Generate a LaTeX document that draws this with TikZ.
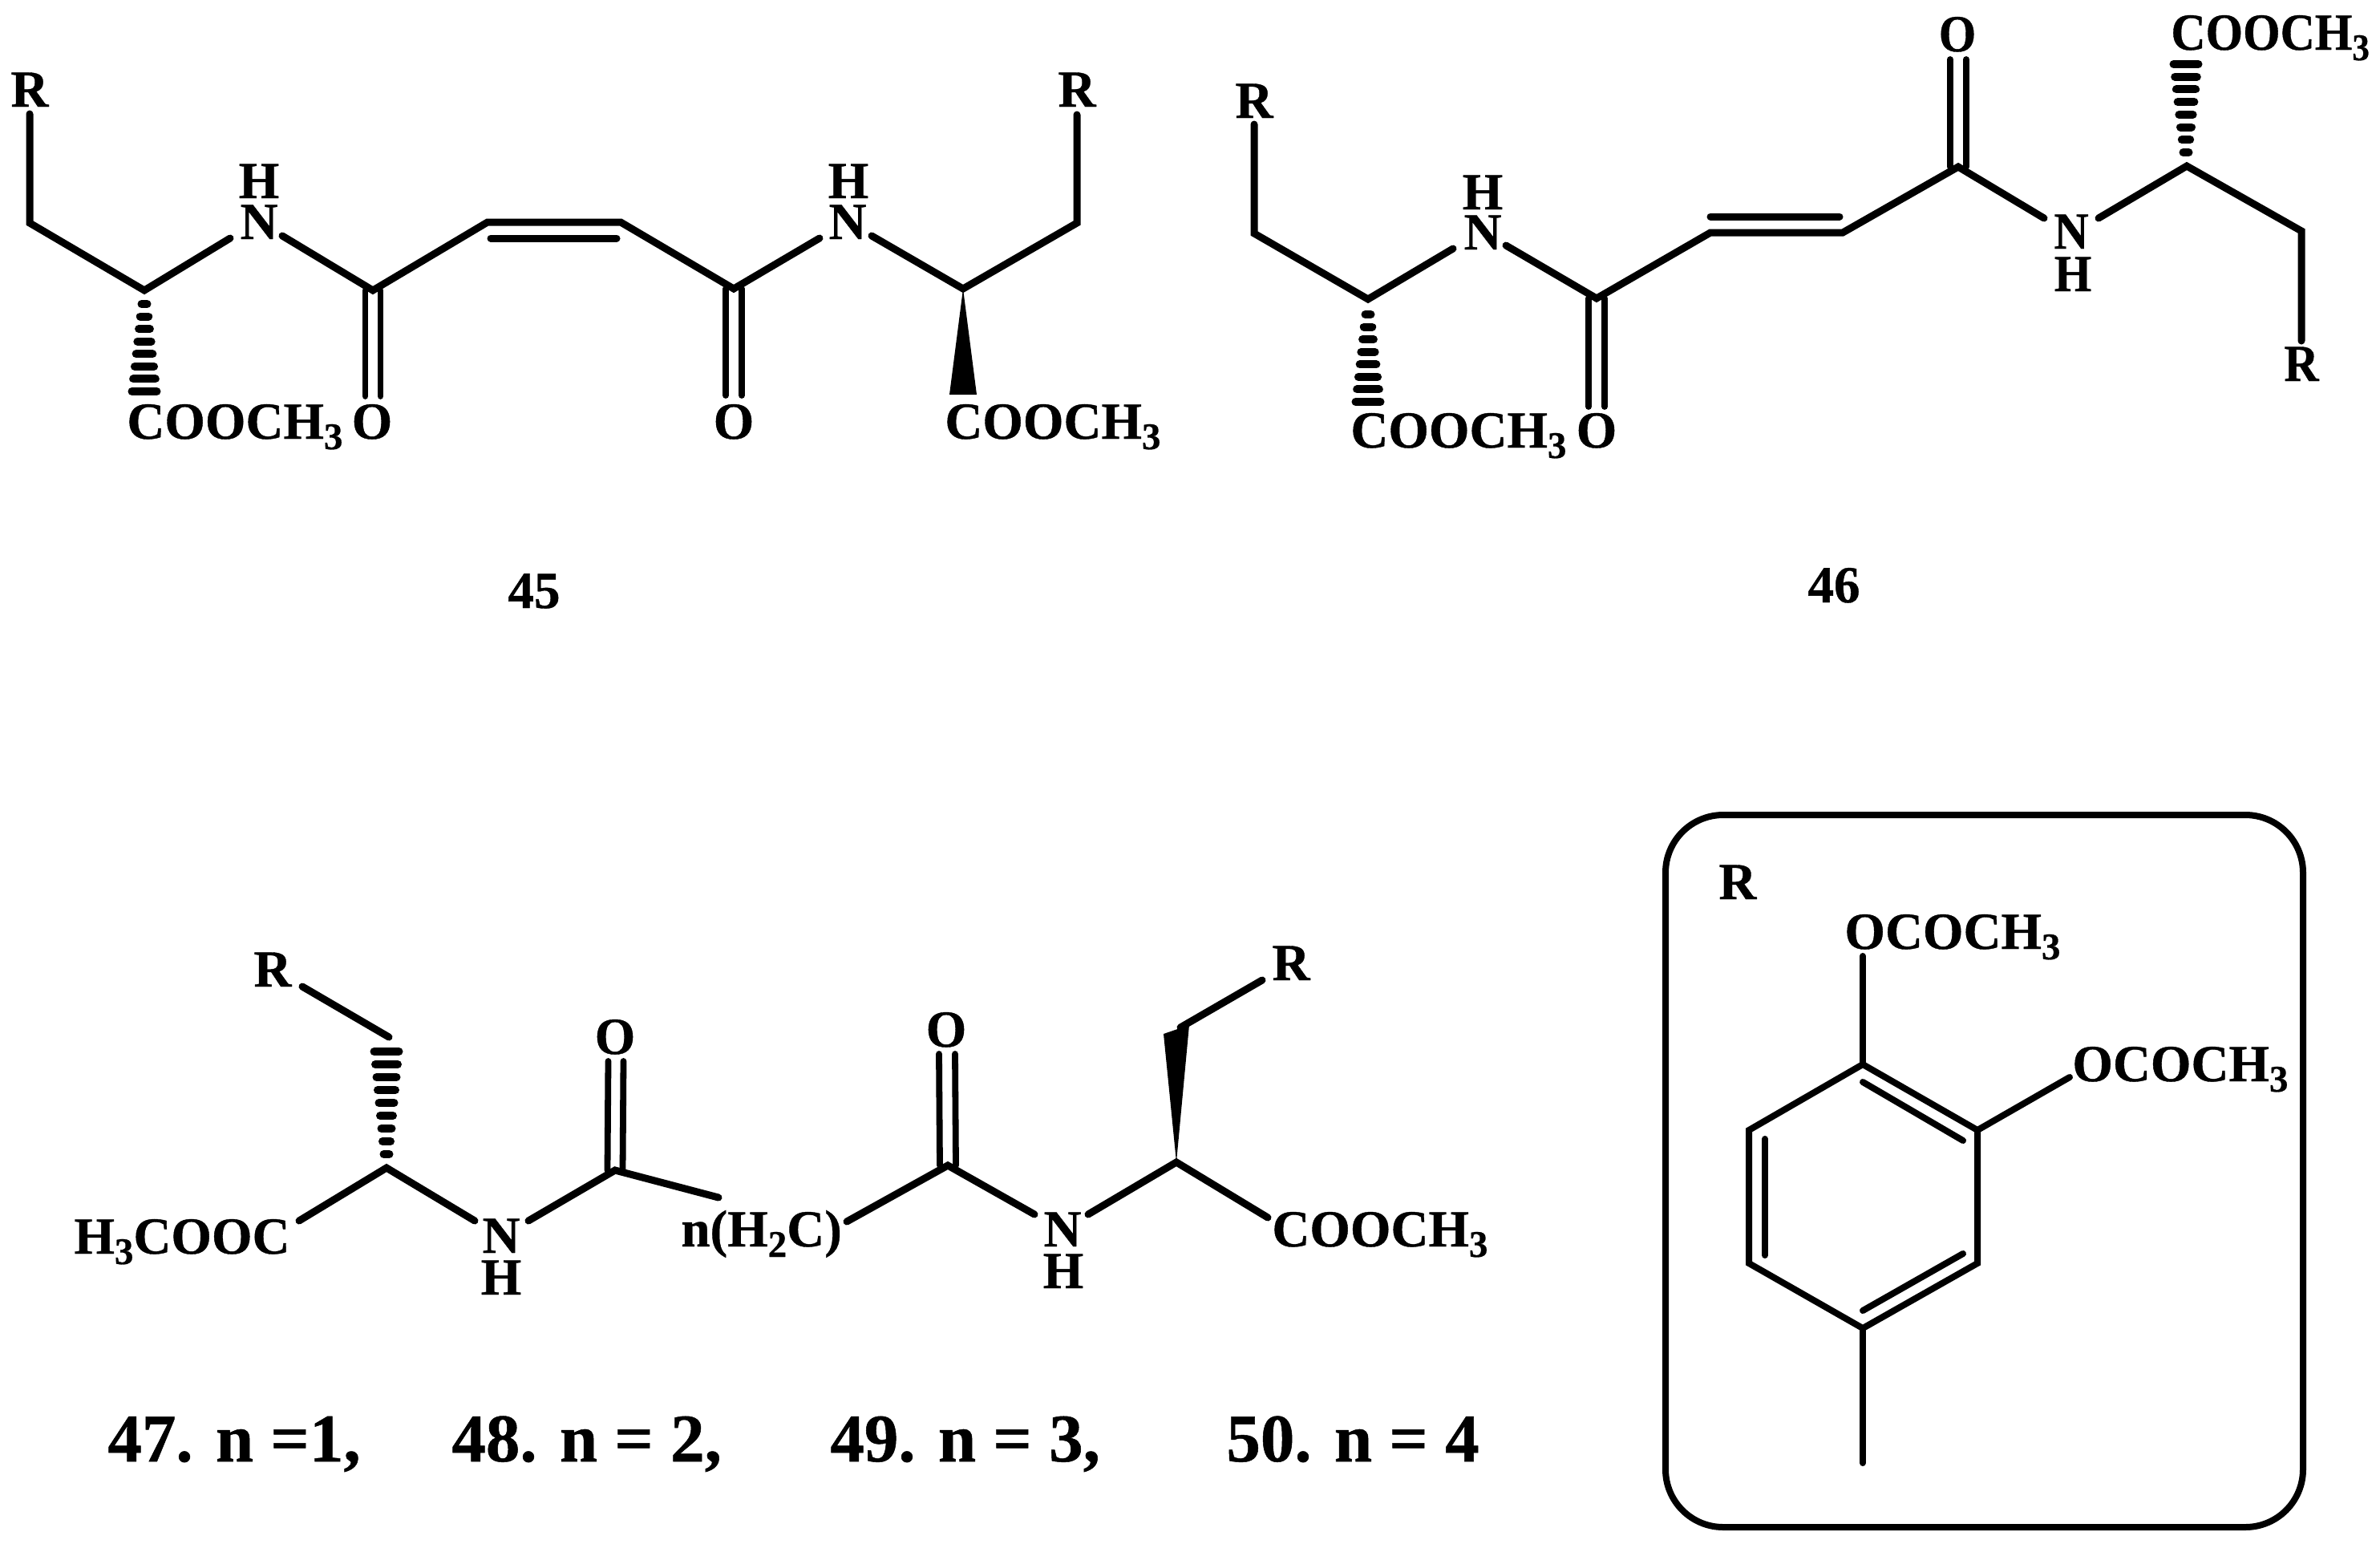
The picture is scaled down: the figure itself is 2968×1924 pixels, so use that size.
\documentclass[tikz,border=0pt]{standalone}
\usepackage{fontspec}
\setmainfont{Liberation Serif}[BoldFeatures={FakeBold=0.6}]
\usetikzlibrary{calc}
\newcommand{\subs}[1]{\raisebox{-6.5pt}{\fontsize{23.5}{23.5}\selectfont #1}}
\newcommand{\nar}[1]{\scalebox{.92}[1]{#1}}
\newcommand{\hashbond}[5]{%
  \foreach \hI in {1,...,#5} {%
    \pgfmathsetmacro\hT{(\hI-1)/(#5-1)}%
    \pgfmathsetmacro\hW{#3+(#4-#3)*\hT}%
    \draw[hbar] ($(#1)!\hT!(#2)+(-\hW,0)$) -- ($(#1)!\hT!(#2)+(\hW,0)$);
  }}
\newcommand{\dblv}[3]{%
  \draw[thin bond] ($(#1)+(-#3,0)$) -- ($(#2)+(-#3,0)$);
  \draw[thin bond] ($(#1)+(#3,0)$) -- ($(#2)+(#3,0)$);}
\tikzset{
  x=0.5pt, y=-0.5pt,
  bond/.style={line width=4.5pt, line cap=round, line join=miter, black},
  thin bond/.style={line width=3.9pt, line cap=round, black},
  ring bond/.style={line width=4pt, line cap=round, line join=miter, black},
  hbar/.style={line width=5pt, line cap=round, black},
  wedge/.style={fill=black, draw=none},
  atom/.style={inner sep=0pt, anchor=base, font=\fontsize{32.5}{32.5}\selectfont\bfseries},
  group/.style={inner sep=0pt, anchor=base west, font=\fontsize{32.5}{32.5}\selectfont\bfseries},
  series/.style={inner sep=0pt, anchor=base west, font=\fontsize{42.5}{42.5}\selectfont\bfseries},
  panel/.style={line width=4pt, rounded corners=36pt, black},
}
\begin{document}
\begin{tikzpicture}
\fill[white] (0,0) rectangle (2968,1924);
\useasboundingbox (0,0) rectangle (2968,1924);

%% ---------- 45 ----------
\node[atom] (aR) at (37,133) {R};
\node[atom] (aN) at (323,298) {N};
\node[atom] (aH) at (323,247) {H};
\node[atom] (aO) at (464,547) {O};
\node[group] (aCO) at (158,547) {COOCH\subs{3}};
\node[atom] (bN) at (1057,298) {N};
\node[atom] (bH) at (1058,247) {H};
\node[atom] (bO) at (915,547) {O};
\node[atom] (bR) at (1343,133) {R};
\node[group] (bCO) at (1178,547) {COOCH\subs{3}};
\node[atom] (lab45) at (666,758) {45};
\coordinate (a1) at (37,142);
\coordinate (a2) at (37,278);
\coordinate (a3) at (180,362);
\coordinate (a4) at (287,297);
\coordinate (a5) at (352,294);
\coordinate (a6) at (465,362);
\coordinate (a7) at (608,277);
\coordinate (a8) at (774,277);
\coordinate (a9) at (915,360);
\coordinate (a10) at (1022,297);
\coordinate (a11) at (1087,294);
\coordinate (a12) at (1201,360);
\coordinate (a13) at (1343,278);
\coordinate (a14) at (1343,143);
\coordinate (ai1) at (612,297);
\coordinate (ai2) at (769,297);
\coordinate (aOe) at (465,494);
\coordinate (bOe) at (915,493);
\coordinate (ah1) at (180,379);
\coordinate (ah2) at (180,488);
\draw[bond] (a1) -- (a2) -- (a3) -- (a4);
\draw[bond] (a5) -- (a6) -- (a7) -- (a8) -- (a9) -- (a10);
\draw[bond] (a11) -- (a12) -- (a13) -- (a14);
\draw[bond] (ai1) -- (ai2);
\dblv{a6}{aOe}{9.5}
\dblv{a9}{bOe}{10}
\hashbond{ah1}{ah2}{3.5}{15.5}{8}
\fill[wedge] (a12) -- ($(a12)+(-17,132)$) -- ($(a12)+(17,132)$) -- cycle;

%% ---------- 46 ----------
\node[atom] (cR) at (1564,147) {R};
\node[atom] (cN) at (1849,311) {N};
\node[atom] (cH) at (1849,261) {H};
\node[atom] (cO) at (1991,558) {O};
\node[group] (cCO) at (1684,558) {COOCH\subs{3}};
\node[atom] (dO) at (2441,64) {\nar{O}};
\node[atom] (dN) at (2583,310) {\nar{N}};
\node[atom] (dH) at (2585,363) {\nar{H}};
\node[atom] (dR) at (2870,475) {\nar{R}};
\node[group] (dCO) at (2707,62) {\nar{COOCH\subs{3}}};
\node[atom] (lab46) at (2287,751) {46};
\coordinate (c1) at (1564,155);
\coordinate (c2) at (1564,291);
\coordinate (c3) at (1706,373);
\coordinate (c4) at (1812,310);
\coordinate (c5) at (1878,306);
\coordinate (c6) at (1991,372);
\coordinate (c7) at (2133,290);
\coordinate (c8) at (2298,290);
\coordinate (c9) at (2442,208);
\coordinate (c10) at (2549,272);
\coordinate (c11) at (2617,272);
\coordinate (c12) at (2727,207);
\coordinate (c13) at (2870,288);
\coordinate (c14) at (2870,425);
\coordinate (ci1) at (2133,270);
\coordinate (ci2) at (2294,270);
\coordinate (cOe) at (1991,507);
\coordinate (dOe) at (2442,74);
\coordinate (ch1) at (1706,392);
\coordinate (ch2) at (1706,501);
\coordinate (dh1) at (2726,190);
\coordinate (dh2) at (2726,80);
\draw[bond] (c1) -- (c2) -- (c3) -- (c4);
\draw[bond] (c5) -- (c6) -- (c7) -- (c8) -- (c9) -- (c10);
\draw[bond] (c11) -- (c12) -- (c13) -- (c14);
\draw[bond] (ci1) -- (ci2);
\dblv{c6}{cOe}{10}
\dblv{c9}{dOe}{10}
\hashbond{ch1}{ch2}{3.5}{15.5}{8}
\hashbond{dh1}{dh2}{3.5}{15.5}{8}

%% ---------- 47-50 ----------
\node[atom] (eR) at (340,1230) {R};
\node[group] (eCO) at (92,1563) {H\subs{3}COOC};
\node[atom] (eN) at (625,1562) {N};
\node[atom] (eH) at (625,1614) {H};
\node[atom] (eO) at (767,1314) {O};
\node[group] (eCH) at (849,1554) {n(H\subs{2}C)};
\node[atom] (fO) at (1180,1305) {O};
\node[atom] (fN) at (1325,1554) {N};
\node[atom] (fH) at (1326,1606) {H};
\node[atom] (fR) at (1610,1222) {R};
\node[group] (fCO) at (1586,1554) {COOCH\subs{3}};
\coordinate (e1) at (377,1230);
\coordinate (e2) at (485,1293);
\coordinate (e3) at (482,1456);
\coordinate (e4) at (373,1522);
\coordinate (e5) at (592,1522);
\coordinate (e6) at (659,1522);
\coordinate (e7) at (767,1459);
\coordinate (e8) at (896,1493);
\coordinate (e9) at (1056,1523);
\coordinate (e10) at (1182,1453);
\coordinate (e11) at (1290,1514);
\coordinate (e12) at (1357,1514);
\coordinate (e13) at (1467,1449);
\coordinate (e14) at (1581,1518);
\coordinate (e15) at (1472,1281);
\coordinate (e16) at (1574,1222);
\coordinate (eOe) at (768,1323);
\coordinate (fOe) at (1181,1314);
\coordinate (eh1) at (482,1311);
\coordinate (eh2) at (482,1439);
\draw[bond] (e1) -- (e2);
\draw[bond] (e4) -- (e3) -- (e5);
\draw[bond] (e6) -- (e7) -- (e8);
\draw[bond] (e9) -- (e10) -- (e11);
\draw[bond] (e12) -- (e13) -- (e14);
\draw[bond] (e15) -- (e16);
\dblv{e7}{eOe}{9.5}
\dblv{e10}{fOe}{10}
\hashbond{eh2}{eh1}{3.5}{15.5}{9}
\fill[wedge] (e13) -- (1451,1289) -- (1483,1278) -- cycle;
\node[series] (s47) at (134,1822) {47. n =1,};
\node[series] (s48) at (563,1822) {48. n = 2,};
\node[series] (s49) at (1035,1822) {49. n = 3,};
\node[series] (s50) at (1529,1822) {50. n = 4};

%% ---------- R panel ----------
\draw[panel] (2077,1016) rectangle (2872,1904);
\node[group] (pR) at (2143,1121) {R};
\node[group] (pA) at (2300,1183) {OCOCH\subs{3}};
\node[group] (pB) at (2584,1348) {OCOCH\subs{3}};
\coordinate (r1) at (2323,1327);
\coordinate (r2) at (2466,1409);
\coordinate (r3) at (2466,1575);
\coordinate (r4) at (2323,1656);
\coordinate (r5) at (2181,1575);
\coordinate (r6) at (2181,1409);
\coordinate (rA) at (2323,1192);
\coordinate (rB) at (2581,1343);
\coordinate (rC) at (2323,1824);
\coordinate (i1) at (2323,1349);
\coordinate (i2) at (2448,1422);
\coordinate (i3) at (2201,1420);
\coordinate (i4) at (2201,1565);
\coordinate (i5) at (2323,1634);
\coordinate (i6) at (2448,1563);
\draw[ring bond] (r1) -- (r2) -- (r3) -- (r4) -- (r5) -- (r6) -- cycle;
\draw[ring bond] (rA) -- (r1);
\draw[ring bond] (r2) -- (rB);
\draw[ring bond] (r4) -- (rC);
\draw[ring bond] (i1) -- (i2);
\draw[ring bond] (i3) -- (i4);
\draw[ring bond] (i5) -- (i6);
\end{tikzpicture}
\end{document}
